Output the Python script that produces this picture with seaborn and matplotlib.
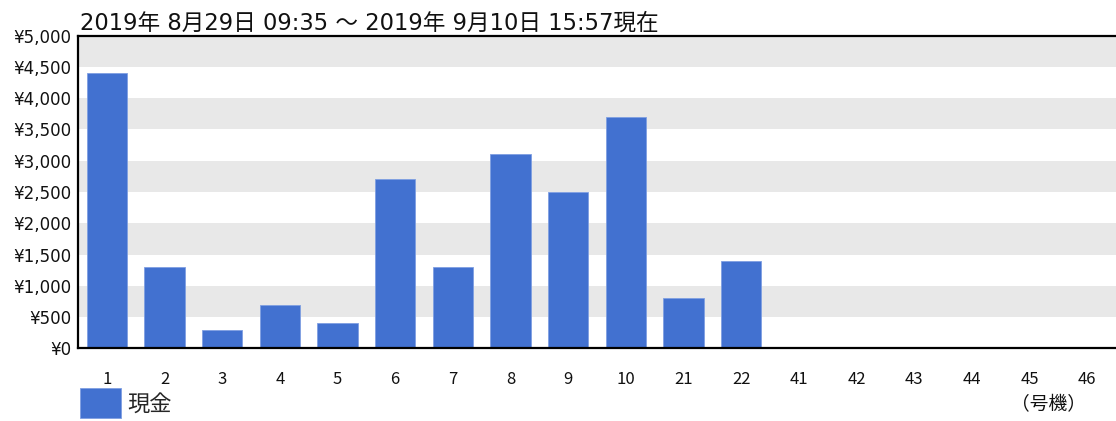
import matplotlib
matplotlib.use("Agg")
import matplotlib.pyplot as plt
from matplotlib.patches import Patch
from matplotlib.ticker import FuncFormatter, MultipleLocator
import pandas as pd
import seaborn as sns

machines = ["1", "2", "3", "4", "5", "6", "7", "8", "9", "10",
            "21", "22", "41", "42", "43", "44", "45", "46"]
cash = [4400, 1300, 300, 700, 400, 2700, 1300, 3100, 2500, 3700,
        800, 1400, 0, 0, 0, 0, 0, 0]
title = "2019年 8月29日 09:35 ～ 2019年 9月10日 15:57現在"
series_name = "現金"
unit_label = "（号機）"

BAR = "#4271D0"
BAND = "#E8E8E8"
WIDE = ["DejaVu Sans", "Noto Sans CJK JP"]

sns.set_style("white")
plt.rcParams["font.family"] = ["Noto Sans CJK JP", "DejaVu Sans"]

df = pd.DataFrame({"machine": machines, "cash": cash})

W, H = 1116, 421
fig = plt.figure(figsize=(W / 100, H / 100), dpi=100)
ax = fig.add_axes([78 / W, 1 - 348.3 / H, 1 - 78 / W, (348.3 - 35.7) / H])

ymax = 5000
step = 500
for lo in range(step, ymax, 2 * step):
    ax.axhspan(lo, lo + step, color=BAND, lw=0, zorder=0)

sns.barplot(data=df, x="machine", y="cash", order=machines, color=BAR,
            saturation=1, width=0.7, edgecolor="#7f9fe2", linewidth=0.6,
            ax=ax, zorder=2)

ax.set_xlim(-0.5, len(machines) - 0.5)
ax.set_ylim(0, ymax)
ax.yaxis.set_major_locator(MultipleLocator(step))
ax.yaxis.set_major_formatter(FuncFormatter(lambda v, p: "¥{:,.0f}".format(v)))
ax.set_xlabel("")
ax.set_ylabel("")
ax.tick_params(axis="both", length=0, colors="#111111")
ax.tick_params(axis="y", pad=5)
ax.tick_params(axis="x", pad=16, labelsize=12)
for lab in ax.get_yticklabels():
    lab.set_family(WIDE)
    lab.set_fontsize(12)

for side in ["top", "left", "bottom"]:
    ax.spines[side].set_visible(True)
    ax.spines[side].set_color("black")
    ax.spines[side].set_linewidth(1.6)
ax.spines["right"].set_visible(False)
ax.set_facecolor("white")

fig.text(80 / W, 1 - 30 / H, title, fontsize=16.3, family=WIDE,
         ha="left", va="baseline", color="#111111")

handle = Patch(facecolor=BAR, edgecolor="#7f9fe2", linewidth=0.6)
leg = fig.legend([handle], [series_name], loc="upper left",
                 bbox_to_anchor=(80 / W, 1 - 388 / H), frameon=False,
                 fontsize=16, handlelength=1.85, handleheight=1.7,
                 handletextpad=0.3, borderpad=0, borderaxespad=0)

fig.text(1049 / W, 1 - 405 / H, unit_label, fontsize=13.5, ha="center",
         va="center", color="#111111")

fig.savefig("out.png", dpi=100)
